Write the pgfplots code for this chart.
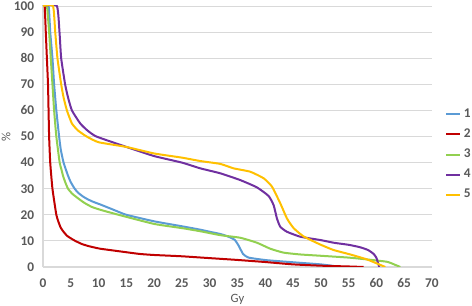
\documentclass[border=0pt]{standalone}
\usepackage{pgfplots}
\pgfplotsset{compat=1.18}
\usepackage{fontspec}
\setmainfont{Carlito}
\definecolor{c1}{HTML}{5B9BD5}
\definecolor{c2}{HTML}{C00000}
\definecolor{c3}{HTML}{92D050}
\definecolor{c4}{HTML}{7030A0}
\definecolor{c5}{HTML}{FFC000}
\definecolor{txt}{HTML}{595959}
\definecolor{grd}{HTML}{D9D9D9}
\begin{document}
\begin{tikzpicture}
\useasboundingbox (0,0) rectangle (354pt,229.5pt);
\begin{axis}[
  at={(32.25pt,29.25pt)}, anchor=south west,
  scale only axis, width=291.75pt, height=195.75pt,
  xmin=0, xmax=70, ymin=0, ymax=100,
  xtick={0,5,...,70}, ytick={0,10,...,100},
  ymajorgrids, grid style={grd, line width=0.6pt},
  axis x line=bottom, axis y line=left,
  axis line style={-, grd, line width=0.8pt},
  major tick length=0pt,
  tick label style={font=\fontsize{10}{12}\selectfont\bfseries, text=txt, inner sep=0pt},
  xticklabel style={anchor=center, yshift=-12pt},
  yticklabel style={anchor=east, xshift=-6.5pt},
  /pgf/number format/assume math mode=true,
  xlabel={Gy}, ylabel={\%},
  label style={font=\fontsize{9.5}{11}\selectfont, text=txt},
  xlabel style={at={(axis description cs:0.5,-0.1226)}, anchor=center},
  ylabel style={at={(axis description cs:-0.095,0.5)}, anchor=center},
  legend style={draw=none, fill=none, at={(1.033,0.431)}, anchor=west,
    font=\fontsize{10}{12}\selectfont\bfseries, text=txt, row sep=3pt,
    inner sep=0pt},
  legend cell align=left,
  legend image code/.code={\draw[#1] (0pt,0pt) -- (10.5pt,0pt);},
  every axis plot/.append style={line width=1.5pt, line join=round, smooth, tension=0.3},
]
\addplot[c1] coordinates {(0,100) (1.0,100) (1.3,90) (1.7,80) (2.0,70) (2.4,60) (2.9,50) (3.2,45) (3.7,40) (4.5,35) (5,32.5) (5.7,30) (6.3,28.5) (7.2,27) (8,26) (9.0,25) (10.5,23.8) (12.6,22) (15,20) (20,17.5) (25,15.6) (28.3,14.3) (30,13.5) (32,12.6) (33.5,11.5) (34.5,10.4) (35.2,8.2) (36.0,5.0) (37.0,3.6) (40.3,2.6) (46.3,1.6) (50,1.0) (53,0.2)};
\addlegendentry{1}
\addplot[c2] coordinates {(0,100) (0.3,100) (0.5,90) (0.7,80) (0.9,70) (1.0,60) (1.1,50) (1.3,40) (1.7,30) (2.4,20) (2.8,17.2) (3.2,15) (3.7,13.5) (4.3,12) (5,11) (5.8,10) (7,8.8) (8.2,8) (9.2,7.5) (10.3,7) (13.8,6) (17.4,5) (20,4.6) (25,4.1) (30,3.4) (35,2.7) (40,1.9) (45,1.0) (50,0.5) (55,0.2) (57.7,0)};
\addlegendentry{2}
\addplot[c3] coordinates {(0,100) (0.7,100) (1.1,90) (1.4,80) (1.7,70) (2.0,60) (2.4,50) (3.0,40) (3.3,37.5) (3.6,35) (4,32.5) (4.5,30) (5.3,28) (6.5,26) (7.5,24.5) (8.8,23) (10.5,21.8) (13.6,20) (20,16.5) (25,14.9) (28.3,13.7) (31.9,12.2) (35.5,11.2) (38.5,9.3) (40.9,7.0) (43.3,5.5) (46.3,4.8) (50,4.3) (55,3.6) (58.3,2.9) (61.9,2.0) (63.4,0.8) (64.3,0)};
\addlegendentry{3}
\addplot[c4] coordinates {(0,100) (2.5,100) (2.97,90) (3.27,80) (3.98,70) (4.5,65) (5.2,60) (6.7,55) (8,52.3) (9.6,50) (15,46) (20,42.5) (25,40) (28.3,37.8) (31.9,35.9) (35.5,33.3) (38.5,30.5) (40.6,27.2) (41.5,23.7) (42.1,18.6) (42.7,15.4) (43.9,13.5) (46.3,11.6) (50,10.3) (52.3,9.3) (55,8.5) (57,7.6) (58.5,6.5) (59.5,5.0) (60.0,3.5) (60.5,0)};
\addlegendentry{4}
\addplot[c5] coordinates {(0,100) (1.8,100) (2.2,90) (2.6,80) (3.27,70) (3.7,65) (4.3,60) (5.2,55) (6.3,52.3) (7.85,50) (10,47.8) (15,46) (20,43.5) (25,41.9) (28.3,40.6) (31.9,39.5) (34.3,37.8) (37.3,36.5) (39.7,34) (41.2,30.8) (42.7,24.4) (43.9,18.6) (45.1,14.9) (46.9,11.7) (49.9,8.6) (52.3,6.5) (55.3,4.8) (58.3,2.9) (60.7,0.8) (61.6,0)};
\addlegendentry{5}
\end{axis}
\end{tikzpicture}
\end{document}
